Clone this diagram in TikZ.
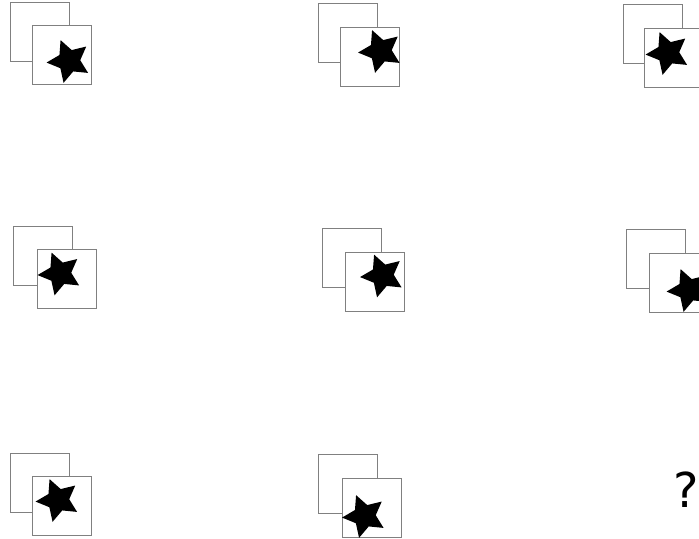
\documentclass[tikz,border=0pt]{standalone}
\usepackage{fontspec}
\setmainfont{DejaVu Sans}
\usetikzlibrary{shapes.geometric,positioning}

\tikzset{
  backsq/.style={draw=black!50,line width=0.7pt,fill=white,minimum size=1.77cm,inner sep=0pt},
  frontsq/.style={draw=black!50,line width=0.7pt,fill=white,minimum size=1.77cm,inner sep=0pt},
  starmark/.style={star,star points=5,star point ratio=2,fill=black,minimum size=1.35cm,inner sep=0pt,rotate=22}
}

\begin{document}
\begin{tikzpicture}[x=0.03cm,y=-0.03cm]
  \useasboundingbox (0,0) rectangle (699,539);
  % row 1
  \node[backsq] (back11) at (39.5,31.5) {};
  \node[frontsq] (front11) at (62,54.5) {};
  \node[starmark] (star11) at (69,61) {};
  \node[backsq] (back12) at (347.5,32.5) {};
  \node[frontsq] (front12) at (370,57) {};
  \node[starmark] (star12) at (380.5,51) {};
  \node[backsq] (back13) at (652.5,33.5) {};
  \node[frontsq] (front13) at (673.5,57.5) {};
  \node[starmark] (star13) at (668,53) {};
  % row 2
  \node[backsq] (back21) at (43,256) {};
  \node[frontsq] (front21) at (66.5,279) {};
  \node[starmark] (star21) at (60,273.5) {};
  \node[backsq] (back22) at (352,257.5) {};
  \node[frontsq] (front22) at (375,282) {};
  \node[starmark] (star22) at (382.5,275.5) {};
  \node[backsq] (back23) at (655.5,258.5) {};
  \node[frontsq] (front23) at (678.5,283) {};
  \node[starmark] (star23) at (689,290) {};
  % row 3
  \node[backsq] (back31) at (39.5,482.5) {};
  \node[frontsq] (front31) at (62,506) {};
  \node[starmark] (star31) at (58,500) {};
  \node[backsq] (back32) at (348,483.5) {};
  \node[frontsq] (front32) at (371.5,508) {};
  \node[starmark] (star32) at (364.5,516) {};
  % missing cell
  \node[font=\fontsize{41}{41}\selectfont,inner sep=0pt] (missing) at (686,490) {?};
\end{tikzpicture}
\end{document}
